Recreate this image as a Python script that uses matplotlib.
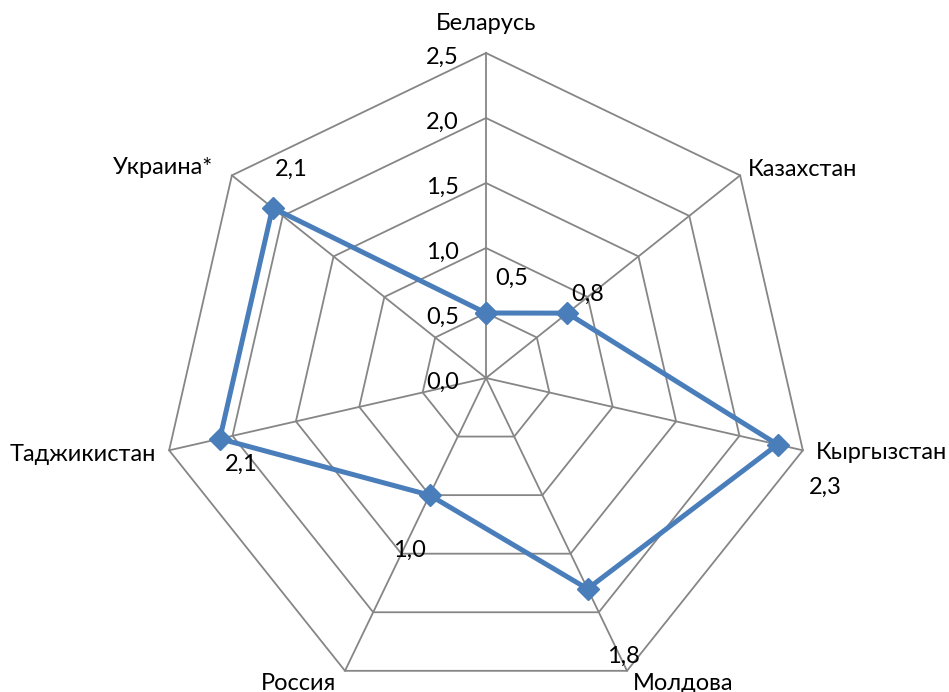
import numpy as np
import matplotlib
matplotlib.use("Agg")
import matplotlib.pyplot as plt

categories = ["Беларусь", "Казахстан", "Кыргызстан", "Молдова", "Россия", "Таджикистан", "Украина*"]
values = [0.5, 0.8, 2.3, 1.8, 1.0, 2.1, 2.1]
ticks = [0.0, 0.5, 1.0, 1.5, 2.0, 2.5]
tick_labels = ["0,0", "0,5", "1,0", "1,5", "2,0", "2,5"]
value_labels = ["0,5", "0,8", "2,3", "1,8", "1,0", "2,1", "2,1"]

# label offsets in pixels (styling)
val_offsets = [(26, 35), (20, 19), (48, -43), (36, -68), (-20, -55), (21, -26), (19, 38)]
cat_offsets = [(0, 23), (8, -1), (13, -9), (6, -19), (-9, -19), (-13, -11), (-19, 1)]
cat_ha = ["center", "left", "left", "left", "right", "right", "right"]

FS = 17
plt.rcParams['font.family'] = ['Lato', 'DejaVu Sans']

fig = plt.figure(figsize=(9.49, 6.92), dpi=100)
cx, cy, R = 486, 378, 325
W, H = 949, 692
ax = fig.add_axes([(cx - R) / W, (H - cy - R) / H, 2 * R / W, 2 * R / H], projection='polar')
ax.set_theta_zero_location('N')
ax.set_theta_direction(-1)
ax.set_ylim(0, 2.5)
ax.grid(False)
ax.spines['polar'].set_visible(False)
ax.set_xticks([])
ax.set_yticks([])
ax.patch.set_alpha(0)

n = len(categories)
angles = np.arange(n) * 2 * np.pi / n
grid_color = '#868686'

# polygon grid
for t in ticks[1:]:
    th = np.append(angles, angles[0])
    rr = np.full(len(th), t)
    ax.plot(th, rr, color=grid_color, lw=1.3, zorder=1, clip_on=False)
# spokes
for a in angles:
    ax.plot([a, a], [0, ticks[-1]], color=grid_color, lw=1.3, zorder=1, clip_on=False)

# tick labels on vertical axis
for t, lab in zip(ticks, tick_labels):
    ax.annotate(lab, (0, t), xytext=(-27, -4), textcoords='offset pixels',
                ha='right', va='center', fontsize=FS, color='black', annotation_clip=False)

# data
th = np.append(angles, angles[0])
vv = np.append(values, values[0])
ax.plot(th, vv, color='#4A7EBB', lw=3.6, marker='D', markersize=11, zorder=3, clip_on=False)

for a, v, lab, off in zip(angles, values, value_labels, val_offsets):
    ax.annotate(lab, (a, v), xytext=off, textcoords='offset pixels',
                ha='center', va='center', fontsize=FS, color='black', annotation_clip=False)

for a, lab, off, ha in zip(angles, categories, cat_offsets, cat_ha):
    ax.annotate(lab, (a, ticks[-1]), xytext=off, textcoords='offset pixels',
                ha=ha, va='baseline', fontsize=FS, color='black', annotation_clip=False)

fig.savefig('out.png', dpi=100)
